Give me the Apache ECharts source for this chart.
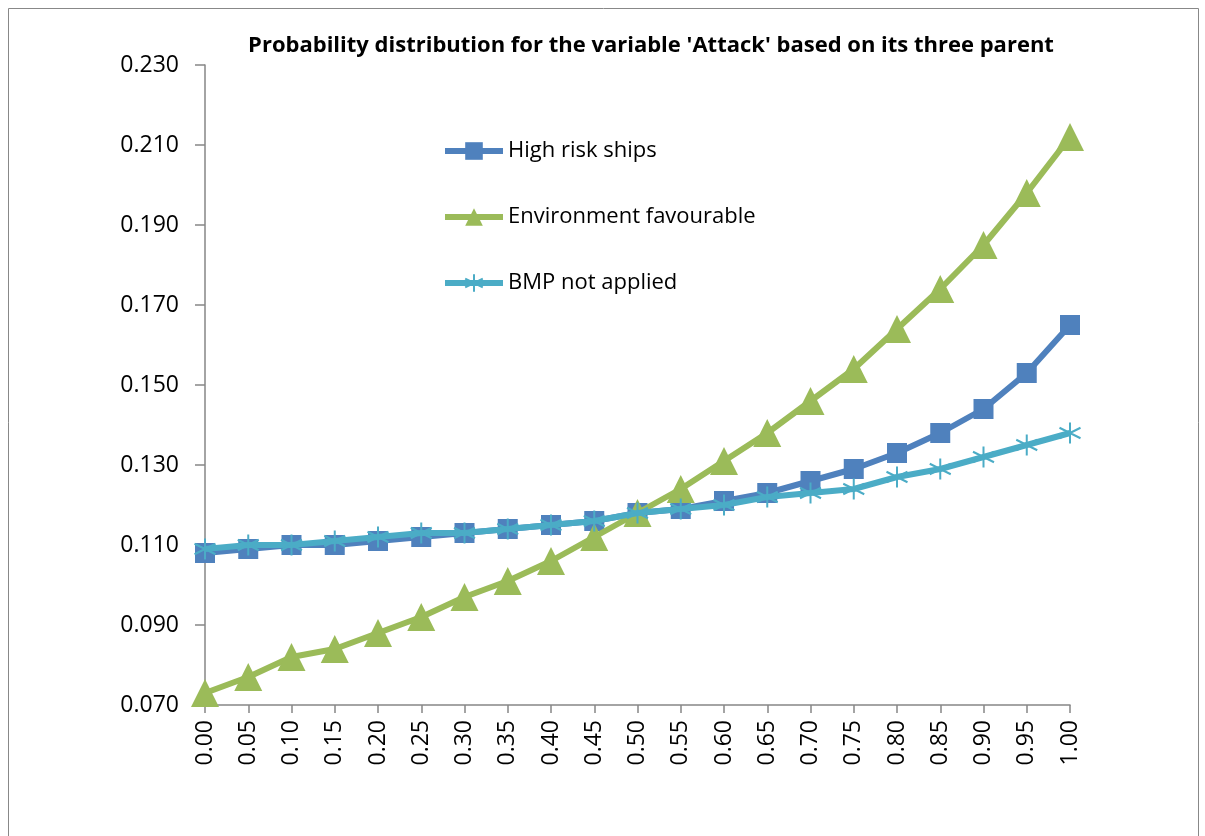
<!DOCTYPE html>
<html><head><meta charset="utf-8">
<script src="https://cdn.jsdelivr.net/npm/echarts@6/dist/echarts.min.js"></script>
<style>html,body{margin:0;padding:0;background:#fff}#c{width:1205px;height:836px}</style>
</head><body><div id="c"></div>
<script>
const categories = ['0.00','0.05','0.10','0.15','0.20','0.25','0.30','0.35','0.40','0.45','0.50','0.55','0.60','0.65','0.70','0.75','0.80','0.85','0.90','0.95','1.00'];
const highRisk = [0.108,0.109,0.110,0.110,0.111,0.112,0.113,0.114,0.115,0.116,0.118,0.119,0.121,0.123,0.126,0.129,0.133,0.138,0.144,0.153,0.165];
const envFav = [0.073,0.077,0.082,0.084,0.088,0.092,0.097,0.101,0.106,0.112,0.118,0.124,0.131,0.138,0.146,0.154,0.164,0.174,0.185,0.198,0.212];
const bmpNot = [0.109,0.110,0.110,0.111,0.112,0.113,0.113,0.114,0.115,0.116,0.118,0.119,0.120,0.122,0.123,0.124,0.127,0.129,0.132,0.135,0.138];
const seriesNames = ['High risk ships','Environment favourable','BMP not applied'];

const chart = echarts.init(document.getElementById('c'));
const font = "'Open Sans', 'Liberation Sans', sans-serif";
const star = 'path://M0,-10L0,10M-8.66,-5L8.66,5M-8.66,5L8.66,-5';
chart.setOption({
  animation:false,
  backgroundColor:'#fff',
  graphic:[{type:'rect',shape:{x:8.5,y:8.5,width:1190,height:840},style:{fill:'none',stroke:'#888',lineWidth:1},silent:true}],
  title:{text:"Probability distribution for the variable 'Attack' based on its three parent",left:646,top:30,textAlign:'center',
    textStyle:{fontFamily:font,fontWeight:'bold',fontSize:22,color:'#000'}},
  legend:{orient:'vertical',left:442,top:140,padding:0,itemGap:44,itemWidth:58,itemHeight:22,
    lineStyle:{width:6},
    textStyle:{fontFamily:font,fontSize:22,color:'#000'},
    data:seriesNames},
  grid:{left:205,right:135,top:65,bottom:131},
  xAxis:{type:'category',data:categories,boundaryGap:false,
    axisLine:{lineStyle:{color:'#868686',width:1.5}},
    axisTick:{show:true,length:8,lineStyle:{color:'#868686',width:1.5}},
    axisLabel:{rotate:90,fontFamily:font,fontSize:23,color:'#000',margin:15}},
  yAxis:{type:'value',min:0.07,max:0.23,interval:0.02,
    axisLine:{show:true,lineStyle:{color:'#868686',width:1.5}},
    axisTick:{show:true,length:10,lineStyle:{color:'#868686',width:1.5}},
    splitLine:{show:false},
    axisLabel:{fontFamily:font,fontSize:23,color:'#000',margin:26,formatter:v=>v.toFixed(3)}},
  series:[
    {name:seriesNames[0],type:'line',data:highRisk,symbol:'rect',symbolSize:20,
      lineStyle:{color:'#4F81BD',width:6},itemStyle:{color:'#4F81BD'},z:2},
    {name:seriesNames[1],type:'line',data:envFav,symbol:'triangle',symbolSize:[28,28],
      lineStyle:{color:'#9BBB59',width:6},itemStyle:{color:'#9BBB59'},z:3},
    {name:seriesNames[2],type:'line',data:bmpNot,symbol:star,symbolSize:21,
      lineStyle:{color:'#4BACC6',width:6},itemStyle:{color:'#4BACC6',borderColor:'#4BACC6',borderWidth:2},z:4}
  ]
});
</script></body></html>
